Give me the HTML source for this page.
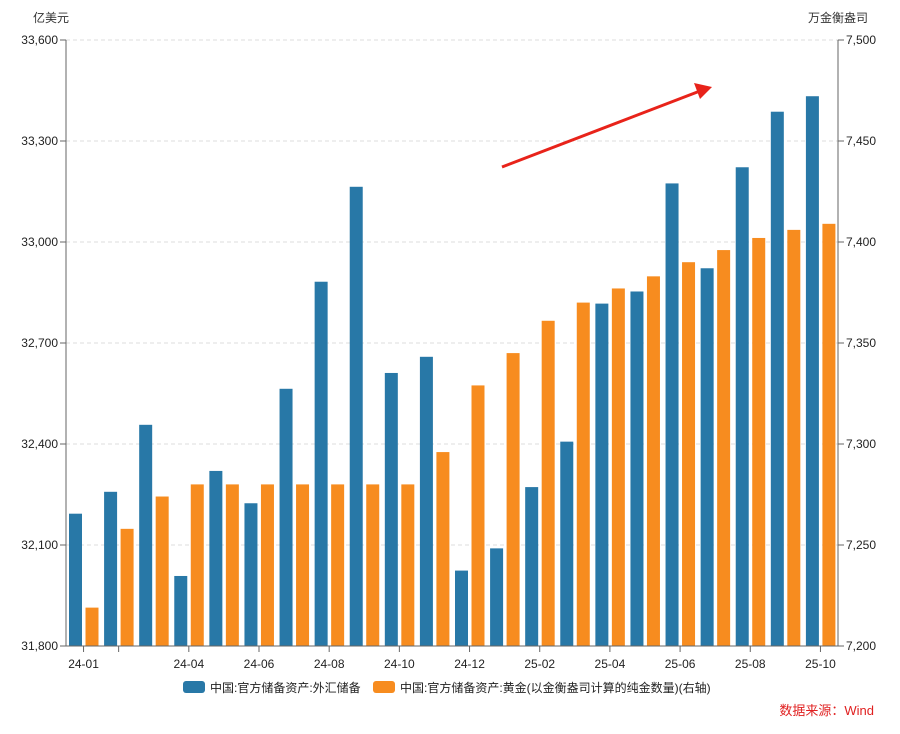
<!DOCTYPE html>
<html><head><meta charset="utf-8"><style>
body{margin:0;background:#fff;}
text{font-family:"Liberation Sans","Noto Sans CJK SC",sans-serif;}
</style></head><body>
<svg id="chart" width="900" height="729" xmlns="http://www.w3.org/2000/svg">
<defs><marker id="ah" markerWidth="8" markerHeight="8" refX="6" refY="4" orient="auto" markerUnits="userSpaceOnUse"><path d="M0,0 L0,0 L22,8 L0,16 Z" transform="scale(0.5)" fill="#e8231a"/></marker></defs>
<g id="grid"></g><g id="bars"></g><g id="axes"></g>
<text x="33" y="22" font-size="12" fill="#333">亿美元</text>
<text x="808" y="22" font-size="12" fill="#333">万金衡盎司</text>
<line x1="502" y1="167" x2="700" y2="91" stroke="#e8231a" stroke-width="3"/>
<polygon points="712,87 694,83 700,99" fill="#e8231a"/>
<g>
<rect x="183" y="681" width="22" height="12" rx="3" fill="#2878a7"/>
<text x="210" y="692" font-size="12" fill="#222">中国:官方储备资产:外汇储备</text>
<rect x="373" y="681" width="22" height="12" rx="3" fill="#f78c1f"/>
<text x="400" y="692" font-size="12" fill="#222">中国:官方储备资产:黄金(以金衡盎司计算的纯金数量)(右轴)</text>
</g>
<text x="874" y="715" font-size="13" fill="#e02020" text-anchor="end">数据来源：Wind</text>
</svg>
<script>
const months=["24-01","24-02","24-03","24-04","24-05","24-06","24-07","24-08","24-09","24-10","24-11","24-12","25-01","25-02","25-03","25-04","25-05","25-06","25-07","25-08","25-09","25-10"];
const fxValues=[32193,32258,32457,32008,32320,32224,32564,32882,33164,32611,32659,32024,32090,32272,32407,32817,32853,33174,32922,33222,33387,33433];
const goldValues=[7219,7258,7274,7280,7280,7280,7280,7280,7280,7280,7296,7329,7345,7361,7370,7377,7383,7390,7396,7402,7406,7409];
const leftTicks=[31800,32100,32400,32700,33000,33300,33600];
const rightTicks=[7200,7250,7300,7350,7400,7450,7500];
const xLabels=["24-01","24-04","24-06","24-08","24-10","24-12","25-02","25-04","25-06","25-08","25-10"];
const ns="http://www.w3.org/2000/svg";
const X0=66,X1=838,Y0=646,Y1=40;
const bw=(X1-X0)/months.length;
const yL=v=>Y0-(v-31800)/(33600-31800)*(Y0-Y1);
const yR=v=>Y0-(v-7200)/(7500-7200)*(Y0-Y1);
const xC=i=>X0+(i+0.5)*bw;
function mk(tag,attrs,parent){const e=document.createElementNS(ns,tag);for(const k in attrs)e.setAttribute(k,attrs[k]);document.getElementById(parent).appendChild(e);return e;}
const fmt=v=>v.toLocaleString("en-US");
leftTicks.forEach((v,i)=>{
  const y=yL(v);
  if(i>0){const g=mk("line",{x1:X0,x2:X1,y1:y,y2:y,stroke:"#ddd","stroke-dasharray":"4,3"},"grid");
  
  }
  const t=mk("line",{x1:X0-6,x2:X0,y1:y,y2:y,stroke:"#666"},"axes");
  
  
  const l=mk("text",{x:X0-8,y:y+4,"font-size":12,"text-anchor":"end",fill:"#222"},"axes");l.textContent=fmt(v);
  
  
});
rightTicks.forEach(v=>{
  const y=yR(v);
  const t=mk("line",{x1:X1,x2:X1+6,y1:y,y2:y,stroke:"#666"},"axes");
  
  
  const l=mk("text",{x:X1+8,y:y+4,"font-size":12,fill:"#222"},"axes");l.textContent=fmt(v);
  
  
});
months.forEach((m,i)=>{
  const gx=X0+i*bw;
  const b=mk("rect",{x:gx+3,y:yL(fxValues[i]),width:13,height:Y0-yL(fxValues[i]),fill:"#2878a7"},"bars");
  
  
  const o=mk("rect",{x:gx+19.5,y:yR(goldValues[i]),width:13,height:Y0-yR(goldValues[i]),fill:"#f78c1f"},"bars");
  
  
});
const ax=[[X0,Y1,X0,Y0],[X1,Y1,X1,Y0],[X0,Y0,X1,Y0]];
ax.forEach(a=>{const l=mk("line",{x1:a[0],y1:a[1],x2:a[2],y2:a[3],stroke:"#666"},"axes");
  
  });
const tickIdx=[1];
xLabels.forEach(m=>tickIdx.push(months.indexOf(m)));
tickIdx.forEach(i=>{const t=mk("line",{x1:xC(i),x2:xC(i),y1:Y0,y2:Y0+6,stroke:"#666"},"axes");
  
  });
xLabels.forEach(m=>{const i=months.indexOf(m);
  const l=mk("text",{x:xC(i),y:Y0+22,"font-size":12,"text-anchor":"middle",fill:"#222"},"axes");l.textContent=m;
  
  });
</script>
</body></html>
